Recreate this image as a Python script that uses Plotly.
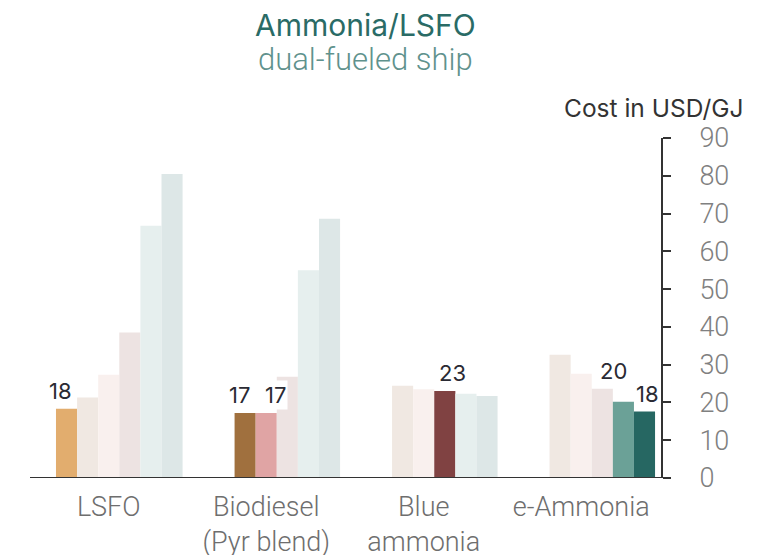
import plotly.graph_objects as go

# categories (x axis)
fuels = ["LSFO", "Biodiesel<br>(Pyr blend)", "Blue<br>ammonia", "e-Ammonia"]

# one list per bar slot inside each group, None = no bar
slot_empty = [None, None, None, None]
slot_ref = [18.3, None, None, None]
slot_a = [21.3, 17.2, 24.4, 32.6]
slot_b = [27.3, 17.2, 23.5, 27.6]
slot_c = [38.5, 26.8, 23.0, 23.6]
slot_d = [66.8, 55.0, 22.3, 20.2]
slot_e = [80.5, 68.6, 21.7, 17.6]

# value labels shown on top of the highlighted bars: (fuel index, slot index, text)
value_labels = [
    (0, 1, "18"),
    (1, 2, "17"),
    (1, 3, "17"),
    (2, 4, "23"),
    (3, 5, "20"),
    (3, 6, "18"),
]

y_ticks = [0, 10, 20, 30, 40, 50, 60, 70, 80, 90]

ORANGE = "#E2AD6E"
BEIGE = "#F0E8E2"
PALE_PINK = "#F9F0EE"
PINK_GREY = "#EDE3E2"
LIGHT_TEAL = "#E6EFEE"
BLUE_GREY = "#DDE7E7"
BROWN = "#A0703E"
SALMON = "#E0A4A4"
MAROON = "#804242"
TEAL = "#6BA197"
DARK_TEAL = "#266762"

slots = [
    (slot_empty, [BEIGE] * 4),
    (slot_ref, [ORANGE] * 4),
    (slot_a, [BEIGE, BROWN, BEIGE, BEIGE]),
    (slot_b, [PALE_PINK, SALMON, PALE_PINK, PALE_PINK]),
    (slot_c, [PINK_GREY, PINK_GREY, MAROON, PINK_GREY]),
    (slot_d, [LIGHT_TEAL, LIGHT_TEAL, LIGHT_TEAL, TEAL]),
    (slot_e, [BLUE_GREY, BLUE_GREY, BLUE_GREY, DARK_TEAL]),
]

FONT = "Inter"
LIGHT_FONT = "Roboto"
BARGAP = 0.062

fig = go.Figure()
for values, colors in slots:
    fig.add_trace(
        go.Bar(
            x=fuels,
            y=values,
            marker=dict(color=colors, line=dict(width=0)),
            showlegend=False,
            hoverinfo="skip",
        )
    )

# place value labels over their bar slot
slot_w = (1 - BARGAP) / len(slots)
label_shift = {(0, 1): -6, (1, 2): -6, (1, 3): 9, (2, 4): 8, (3, 5): -10, (3, 6): 3}
label_lift = {(3, 5): 31}
for fuel_idx, slot_idx, text in value_labels:
    values = slots[slot_idx][0]
    fig.add_annotation(
        x=fuel_idx - (1 - BARGAP) / 2 + (slot_idx + 0.5) * slot_w,
        y=values[fuel_idx],
        text=text,
        showarrow=False,
        yanchor="middle",
        xshift=label_shift.get((fuel_idx, slot_idx), 0),
        yshift=label_lift.get((fuel_idx, slot_idx), 18),
        bgcolor="white",
        font=dict(family=FONT, size=22, color="#2A2A33"),
    )

fig.add_annotation(
    x=0.532, y=1.0, xref="paper", yref="paper", yanchor="middle", yshift=113,
    text="Ammonia/LSFO", showarrow=False,
    font=dict(family=FONT, size=30, color="#2A6B66"),
)
fig.add_annotation(
    x=0.532, y=1.0, xref="paper", yref="paper", yanchor="middle", yshift=79,
    text="dual-fueled ship", showarrow=False,
    font=dict(family=LIGHT_FONT, size=31, color="#5F928D", weight=300),
)
fig.add_annotation(
    x=1.0, y=1.0, xref="paper", yref="paper", yanchor="middle", yshift=30, xshift=84,
    xanchor="right", text="Cost in USD/GJ", showarrow=False,
    font=dict(family=FONT, size=24.5, color="#333333"),
)

# bottom axis line runs a bit past the right axis, up to the tick ends
fig.add_shape(
    type="line", xref="paper", yref="y", x0=0, x1=1.014, y0=0, y1=0,
    line=dict(color="#333333", width=2),
)

# the page body adds an 8px offset, so margins are set 8px tighter on top/left
fig.update_layout(
    width=776,
    height=555,
    barmode="group",
    bargap=BARGAP,
    bargroupgap=0,
    plot_bgcolor="white",
    paper_bgcolor="white",
    margin=dict(l=22, r=123, t=130, b=85, autoexpand=False),
    xaxis=dict(
        automargin=False,
        showline=False,
        showgrid=False,
        ticks="",
        tickfont=dict(family=LIGHT_FONT, size=27, color="#6E6E6E", weight=300),
        ticklabelstandoff=10,
    ),
    yaxis=dict(
        automargin=False,
        side="right",
        range=[0, 90],
        tickvals=y_ticks,
        showgrid=False,
        zeroline=False,
        showline=True,
        linecolor="#333333",
        linewidth=2,
        ticks="outside",
        ticklen=8,
        tickwidth=2,
        tickcolor="#333333",
        tickfont=dict(family=LIGHT_FONT, size=27, color="#808080", weight=300),
        ticklabelstandoff=23,
    ),
)

fig.write_html("out.html")
